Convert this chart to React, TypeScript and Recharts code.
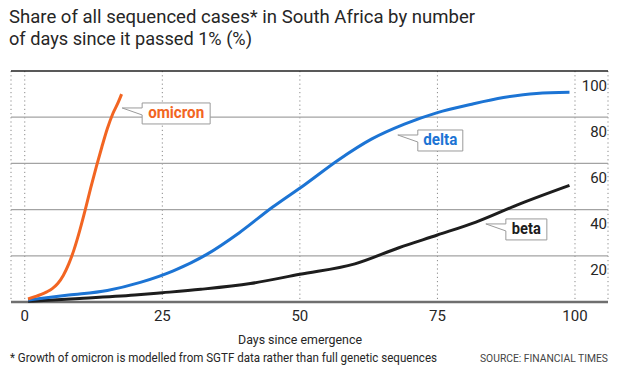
import React from "react";
import { LineChart, Line, XAxis, YAxis, CartesianGrid, ReferenceLine, ReferenceDot } from "recharts";

// ── Palette ────────────────────────────────────────────────────────────────────
const ORANGE = "#f26522";
const BLUE = "#1c74d4";
const BLACK = "#1d1d1d";
const TEXT = "#262626";
const FONT = "Roboto, 'Liberation Sans', sans-serif";

// ── Data (days since passing 1%, share %) ───────────────────────────────────────
const omicronDays = [0.6, 2, 3, 4, 5, 6, 7, 8, 9, 10, 11, 12, 13, 14, 15, 16, 17, 17.6];
const omicronShare = [1.3, 2.4, 3.3, 4.4, 5.8, 8, 11.5, 16.5, 23, 31, 40, 49.5, 58.5, 67, 75, 81.5, 86.5, 90];

const deltaDays = [0.6, 8, 15, 21, 27, 33, 39, 45, 51, 57, 63, 69, 75, 81, 87, 93, 99];
const deltaShare = [0.9, 3, 5, 8.5, 13.5, 20.5, 30, 41, 51, 61.5, 70.5, 77, 82, 85.5, 88.5, 90.3, 90.8];

const betaDays = [0.6, 10, 20, 25, 32, 41, 50, 60, 68, 75, 82, 90, 99];
const betaShare = [0.3, 1.5, 3, 4, 5.5, 8, 12, 16.5, 23.5, 29, 34.6, 42.5, 50.5];

const xTicks = [0, 25, 50, 75, 100];
const gridValues = [20, 40, 60, 80];

const toRows = (days: number[], vals: number[]) => days.map((d, i) => ({ day: d, share: vals[i] }));
const omicron = toRows(omicronDays, omicronShare);
const delta = toRows(deltaDays, deltaShare);
const beta = toRows(betaDays, betaShare);

// ── Callouts: tip position in data units ───────────────────────────────────────
const callouts = [
  { name: "omicron", day: 17.7, share: 84, color: ORANGE, w: 68, tw: 56 },
  { name: "delta", day: 67.8, share: 72.3, color: BLUE, w: 45, tw: 34 },
  { name: "beta", day: 83.8, share: 33.8, color: BLACK, w: 41, tw: 29 },
];

function Callout({ cx, cy, label, color, w, tw }: { cx?: number; cy?: number; label: string; color: string; w: number; tw: number }) {
  if (cx == null || cy == null) return null;
  const bx = cx + 20;
  const by = cy - 5;
  const h = 21;
  const d = `M${bx},${by} H${bx + w} V${by + h} H${bx} V${by + 12} L${cx},${cy} L${bx},${by + 5} Z`;
  return (
    <g>
      <path d={d} fill="#fff" stroke="#9a9a9a" strokeWidth={1} />
      <text x={bx + w / 2} y={by + 15} textAnchor="middle" fill={color} textLength={tw} lengthAdjust="spacingAndGlyphs"
        style={{ fontFamily: FONT, fontSize: 16, fontWeight: 700 }}>
        {label}
      </text>
    </g>
  );
}

function XTick({ x, y, payload }: { x?: number; y?: number; payload?: { value: number } }) {
  return (
    <text x={x} y={(y ?? 0) + 11} textAnchor="middle" fill={TEXT} style={{ fontFamily: FONT, fontSize: 15 }}>
      {payload?.value}
    </text>
  );
}

const gridLabel = (v: number) => (p: { viewBox?: { x: number; y: number; width: number } }) => {
  const vb = p.viewBox;
  if (!vb) return null;
  return (
    <text x={vb.x + vb.width - 1} y={vb.y + 19.5} textAnchor="end" fill={TEXT} style={{ fontFamily: FONT, fontSize: 15 }}>
      {v}
    </text>
  );
};

// free text, squeezed to the widths measured on the reference
function Txt({ x, y, w, size, anchor = "start", fill = TEXT, children }:
  { x: number; y: number; w: number; size: number; anchor?: "start" | "middle" | "end"; fill?: string; children: React.ReactNode }) {
  return (
    <text x={x} y={y} textAnchor={anchor} fill={fill} textLength={w} lengthAdjust="spacingAndGlyphs"
      style={{ fontFamily: FONT, fontSize: size }}>
      {children}
    </text>
  );
}

export default function App() {
  return (
    <div style={{ position: "absolute", left: 0, top: 0, width: 620, height: 372, background: "#fff" }}>
      <LineChart width={620} height={372} margin={{ top: 71, right: 12, bottom: 0, left: 11 }}>
        <CartesianGrid horizontal={false} stroke="#8a8a8a" strokeDasharray="1.2 3" />
        <XAxis type="number" dataKey="day" domain={[-2.5, 106]} ticks={xTicks} allowDataOverflow
          axisLine={false} tickLine={false} height={70} tick={<XTick />} interval={0} />
        <YAxis type="number" domain={[0, 100]} hide />
        {gridValues.map((v) => (
          <ReferenceLine key={v} y={v} stroke="#a3a3a3" strokeWidth={1.3} label={gridLabel(v)} />
        ))}
        <ReferenceLine y={100} stroke="#222" strokeWidth={1.3} label={gridLabel(100)} />
        <ReferenceLine y={0} stroke="#6f6f6f" strokeWidth={2.5} />
        <Line data={beta} dataKey="share" type="monotone" stroke={BLACK} strokeWidth={3} dot={false} isAnimationActive={false} />
        <Line data={delta} dataKey="share" type="monotone" stroke={BLUE} strokeWidth={3} dot={false} isAnimationActive={false} />
        <Line data={omicron} dataKey="share" type="monotone" stroke={ORANGE} strokeWidth={3} dot={false} isAnimationActive={false} />
        {callouts.map((c) => (
          <ReferenceDot key={c.name} x={c.day} y={c.share} r={0} ifOverflow="visible"
            shape={(p: { cx?: number; cy?: number }) => <Callout cx={p.cx} cy={p.cy} label={c.name} color={c.color} w={c.w} tw={c.tw} />} />
        ))}
      </LineChart>
      <svg width={620} height={372} style={{ position: "absolute", left: 0, top: 0, pointerEvents: "none" }}>
        <Txt x={9} y={22.7} w={466} size={19}>Share of all sequenced cases* in South Africa by number</Txt>
        <Txt x={9} y={45} w={243} size={19}>of days since it passed 1% (%)</Txt>
        <Txt x={300} y={344} w={124} size={13} anchor="middle">Days since emergence</Txt>
        <Txt x={10} y={362} w={427} size={13}>* Growth of omicron is modelled from SGTF data rather than full genetic sequences</Txt>
        <Txt x={608} y={362} w={128} size={11} anchor="end" fill="#444">SOURCE: FINANCIAL TIMES</Txt>
      </svg>
    </div>
  );
}
